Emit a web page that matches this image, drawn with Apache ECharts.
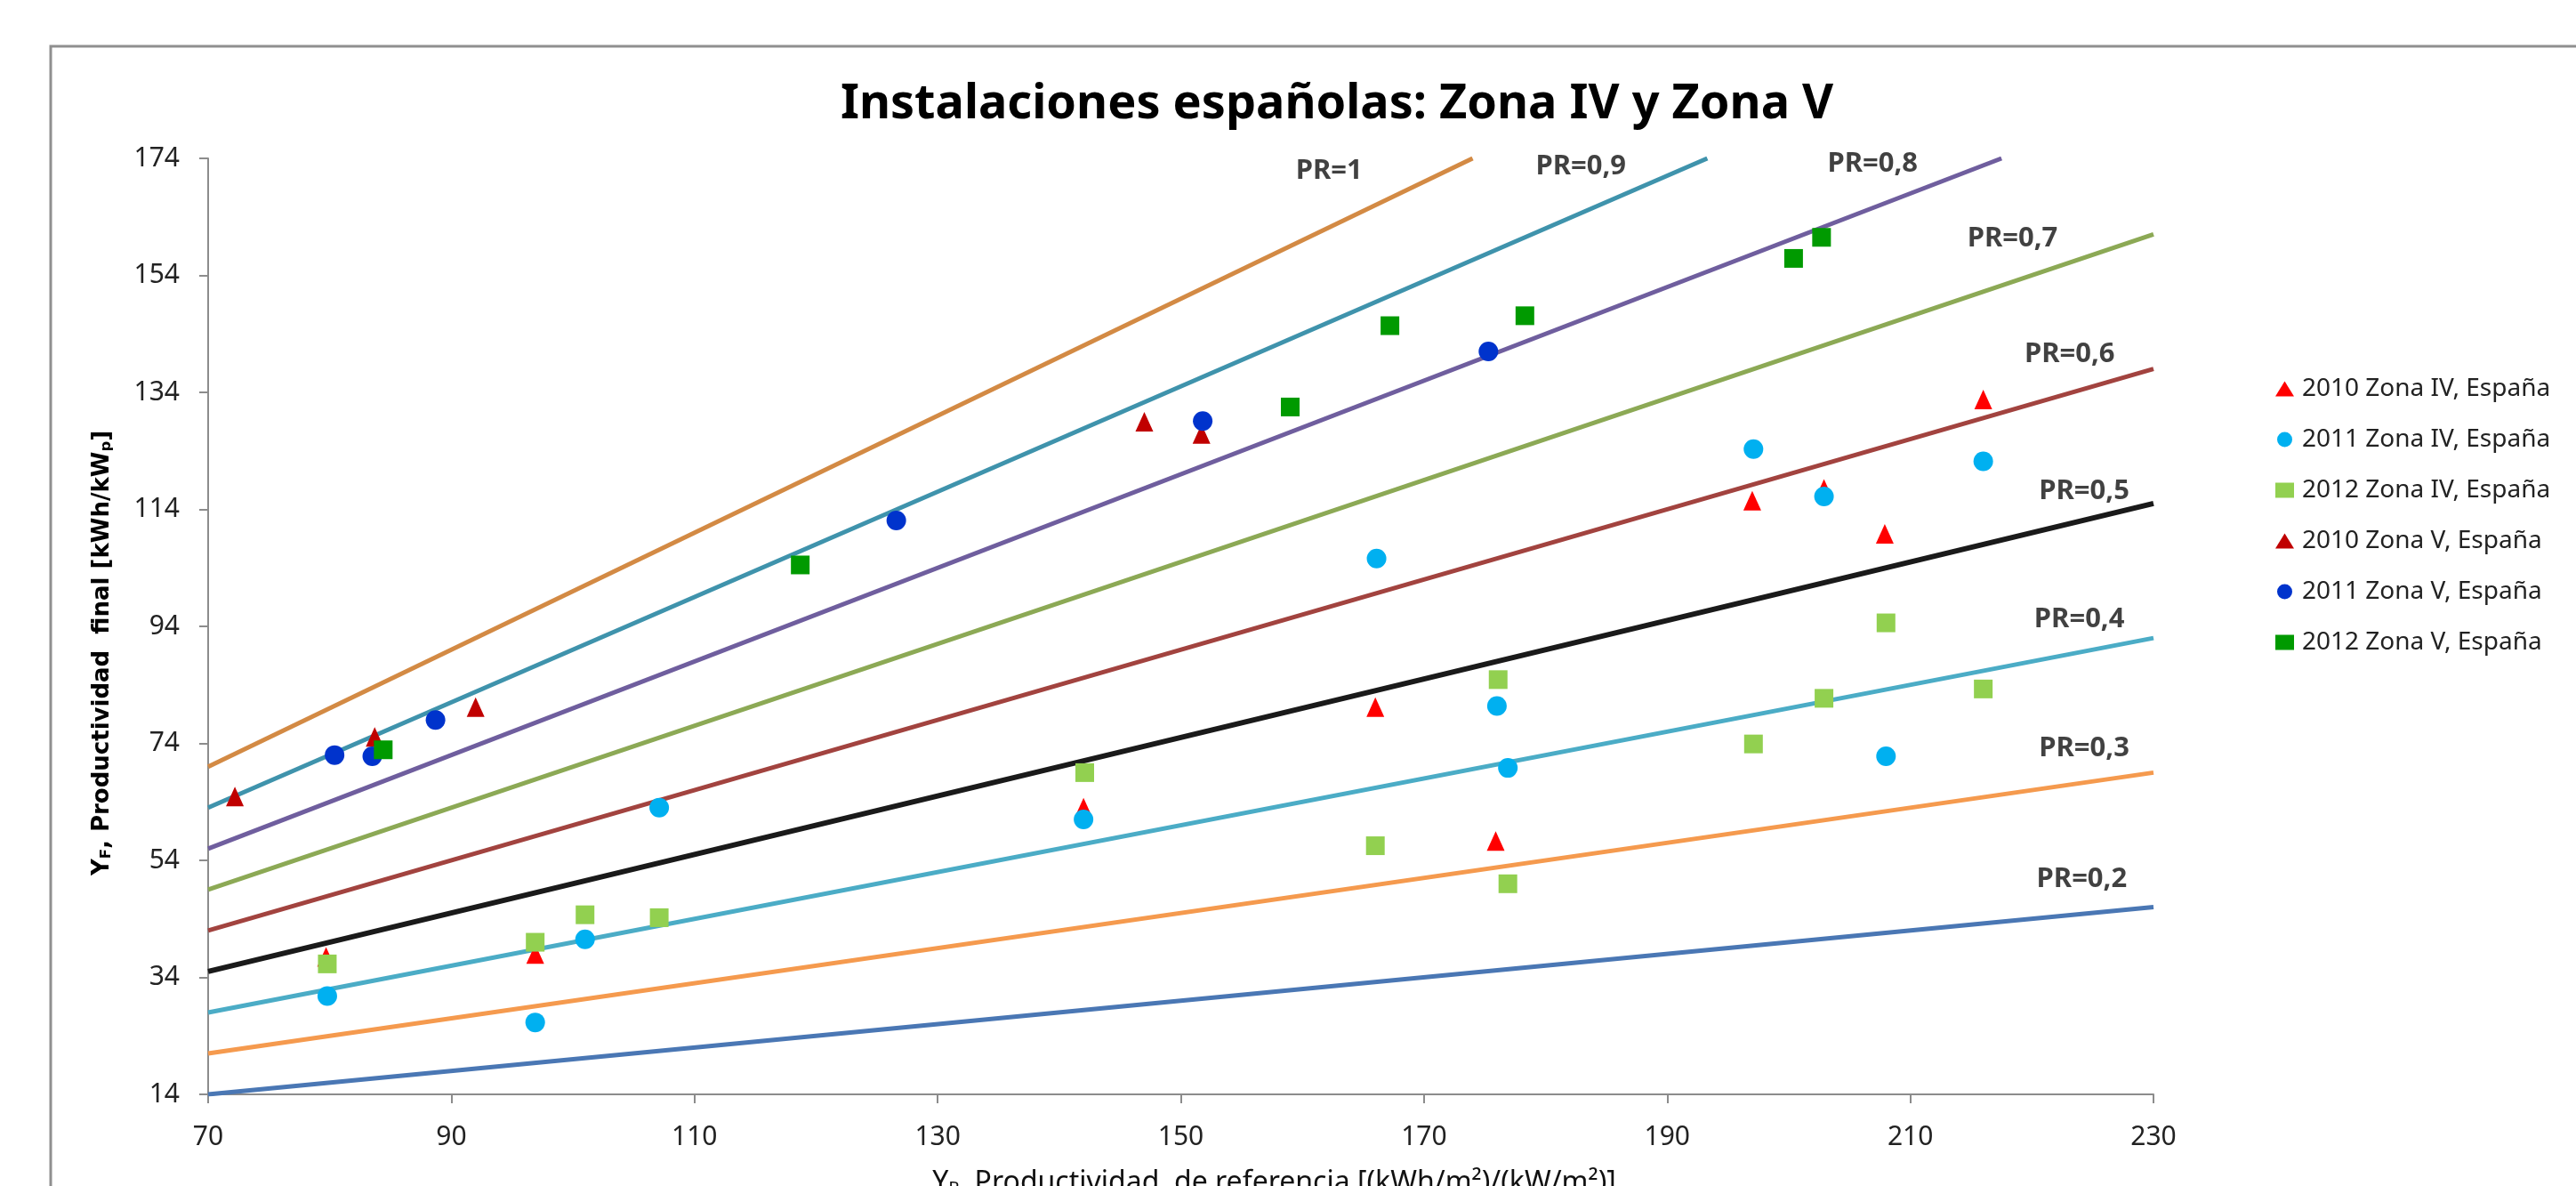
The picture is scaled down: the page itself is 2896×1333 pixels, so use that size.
<!DOCTYPE html>
<html>
<head>
<meta charset="utf-8">
<title>Instalaciones españolas: Zona IV y Zona V</title>
<script src="https://cdn.jsdelivr.net/npm/echarts@6/dist/echarts.min.js"></script>
<style>
html, body { margin: 0; padding: 0; background: #fff; }
#chart { width: 2896px; height: 1333px; }
</style>
</head>
<body>
<div id="chart"></div>
<script>
// datos: [Yr, Yf]
var zonaIV2010 = [[79.7, 37.5], [96.9, 38], [142, 63], [166, 80.2], [175.9, 57.3], [197, 115.5], [202.9, 117.5], [207.9, 109.8], [216, 132.8]];
var zonaIV2011 = [[79.8, 30.8], [96.9, 26.3], [101, 40.5], [107.1, 63], [142, 61], [166.1, 105.6], [176, 80.4], [176.9, 69.8], [197.1, 124.3], [202.9, 116.2], [208, 71.8], [216, 122.2]];
var zonaIV2012 = [[79.8, 36.3], [96.9, 40], [101, 44.7], [107.1, 44.2], [142.1, 69], [166, 56.5], [176.1, 84.9], [176.9, 50], [197.1, 73.9], [202.9, 81.7], [208, 94.6], [216, 83.3]];
var zonaV2010 = [[72.2, 64.9], [83.7, 75.1], [92, 80.2], [147, 129], [151.7, 126.9]];
var zonaV2011 = [[80.4, 72], [83.5, 71.8], [88.7, 78], [126.6, 112.1], [151.8, 129.1], [175.3, 141]];
var zonaV2012 = [[84.4, 72.9], [118.7, 104.5], [159, 131.5], [167.2, 145.4], [178.3, 147.1], [200.4, 156.9], [202.7, 160.5]];

var seriesNames = ['2010 Zona IV, España', '2011 Zona IV, España', '2012 Zona IV, España',
                   '2010 Zona V, España', '2011 Zona V, España', '2012 Zona V, España'];

// rectas PR (inicio y fin)
var prNames = ['PR=1', 'PR=0,9', 'PR=0,8', 'PR=0,7', 'PR=0,6', 'PR=0,5', 'PR=0,4', 'PR=0,3', 'PR=0,2'];
var prStart = [[70, 70], [70, 63], [70, 56], [70, 49], [70, 42], [70, 35], [70, 28], [70, 21], [70, 14]];
var prEnd = [[174, 174], [193.3, 174], [217.5, 174], [230, 161], [230, 138], [230, 115], [230, 92], [230, 69], [230, 46]];
var prLabelAt = [[162.2, 171.9], [182.9, 172.6], [206.9, 173.1], [218.4, 160.3], [223.1, 140.5], [224.3, 117.1], [223.9, 95.2], [224.3, 73.2], [224.1, 50.8]];

var xTicks = { min: 70, max: 230, step: 20 };
var yTicks = { min: 14, max: 174, step: 20 };

var prColors = ['#D38A44', '#3F93AC', '#6F5E9E', '#8CA955', '#A2433F', '#1A1A1A', '#4BACC6', '#F59A4E', '#4A77B4'];

var myChart = echarts.init(document.getElementById('chart'));

var series = [];

// 1. rectas de PR
prNames.forEach(function (name, i) {
    series.push({
        name: name,
        type: 'line',
        data: [prStart[i], prEnd[i]],
        showSymbol: false,
        symbol: 'none',
        silent: true,
        z: 1,
        lineStyle: { color: prColors[i], width: name === 'PR=0,5' ? 6 : 5 }
    });
});

// 2. puntos de las instalaciones
var pointSets = [zonaIV2010, zonaIV2011, zonaIV2012, zonaV2010, zonaV2011, zonaV2012];
var pointSymbols = ['triangle', 'circle', 'rect', 'triangle', 'circle', 'rect'];
var pointSizes = [[20, 22], 22, [21, 21], [20, 22], 22, [21, 21]];
var pointColors = ['#FF0000', '#00B0F0', '#92D050', '#C00000', '#0033CC', '#009A00'];

pointSets.forEach(function (set, i) {
    series.push({
        name: seriesNames[i],
        type: 'scatter',
        data: set,
        symbol: pointSymbols[i],
        symbolSize: pointSizes[i],
        itemStyle: { color: pointColors[i], opacity: 1 },
        z: 3 + i
    });
});

// 3. etiquetas PR=...
series.push({
    name: 'etiquetas',
    type: 'scatter',
    silent: true,
    symbolSize: 1,
    itemStyle: { color: 'transparent' },
    z: 20,
    label: {
        show: true,
        position: 'inside',
        formatter: function (p) { return p.name; },
        fontFamily: 'Noto Sans',
        fontWeight: 'bold',
        fontSize: 31,
        color: '#111'
    },
    data: prLabelAt.map(function (p, i) { return { name: prNames[i], value: p }; })
});

var axisGray = '#8c8c8c';

var option = {
    animation: false,
    backgroundColor: '#fff',
    title: {
        text: 'Instalaciones españolas: Zona IV y Zona V',
        left: 1503,
        top: 91,
        padding: 0,
        textAlign: 'center',
        textStyle: { fontFamily: 'Noto Sans', fontWeight: 'bold', fontSize: 54, color: '#000' }
    },
    legend: {
        data: seriesNames,
        orient: 'vertical',
        left: 2558,
        top: 423,
        padding: 0,
        itemWidth: 21,
        itemHeight: 17,
        itemGap: 29,
        textStyle: { fontFamily: 'Noto Sans', fontSize: 28, lineHeight: 28, color: '#222', padding: [0, 0, 0, 4] }
    },
    grid: { left: 234, right: 475, top: 178, bottom: 103, containLabel: false, outerBoundsMode: 'none' },
    xAxis: {
        type: 'value',
        min: xTicks.min,
        max: xTicks.max,
        interval: xTicks.step,
        name: '{n|Y}{s|R}{n|, Productividad  de referencia [(kWh/m²)/(kW/m²)]}',
        nameLocation: 'middle',
        nameGap: 84,
        nameTextStyle: {
            padding: [0, 0, 0, 210],
            rich: {
                n: { fontFamily: 'Noto Sans', fontSize: 32, color: '#111' },
                s: { fontFamily: 'Noto Sans', fontSize: 20, color: '#111', verticalAlign: 'bottom' }
            }
        },
        axisLine: { show: true, lineStyle: { color: axisGray, width: 2 } },
        axisTick: { show: true, inside: false, length: 10, lineStyle: { color: axisGray, width: 2 } },
        axisLabel: { margin: 33, fontFamily: 'Noto Sans', fontSize: 30, color: '#222' },
        splitLine: { show: false }
    },
    yAxis: {
        type: 'value',
        min: yTicks.min,
        max: yTicks.max,
        interval: yTicks.step,
        axisLine: { show: true, lineStyle: { color: axisGray, width: 2 } },
        axisTick: { show: true, inside: false, length: 10, lineStyle: { color: axisGray, width: 2 } },
        axisLabel: { margin: 32, fontFamily: 'Noto Sans', fontSize: 30, color: '#222' },
        splitLine: { show: false }
    },
    graphic: [{
        // marco del grafico
        type: 'rect',
        silent: true,
        z: -10,
        shape: { x: 57, y: 52, width: 3000, height: 2000 },
        style: { fill: 'none', stroke: '#8f8f8f', lineWidth: 3 }
    }, {
        // titulo del eje Y, girado
        type: 'text',
        silent: true,
        x: 115,
        y: 734,
        rotation: Math.PI / 2,
        style: {
            text: '{b|Y}{s|F}{b|, Productividad  final [kWh/kW}{s|p}{b|]}',
            align: 'center',
            verticalAlign: 'middle',
            rich: {
                b: { fontFamily: 'DejaVu Sans', fontWeight: 'bold', fontSize: 26, fill: '#000' },
                s: { fontFamily: 'DejaVu Sans', fontWeight: 'bold', fontSize: 16.5, fill: '#000', verticalAlign: 'bottom' }
            }
        }
    }],
    series: series
};

myChart.setOption(option);
</script>
</body>
</html>
